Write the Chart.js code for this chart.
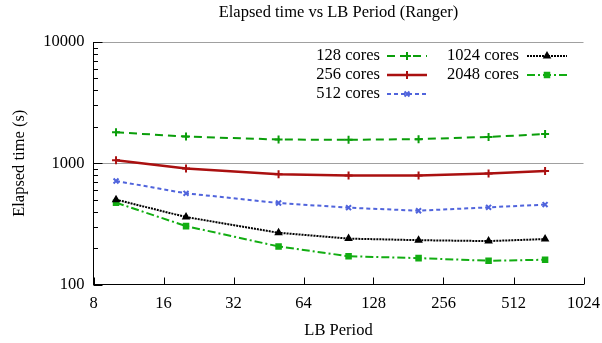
<!DOCTYPE html>
<html><head><meta charset="utf-8">
<script src="https://cdn.jsdelivr.net/npm/chart.js@4.4.1/dist/chart.umd.min.js"></script>
<style>html,body{margin:0;padding:0;background:#fff}canvas{display:block}</style>
</head><body>
<canvas id="c" width="602" height="343"></canvas>
<script>
// ---- data ----
const periods   = [10, 20, 50, 100, 200, 400, 700];
const cores128  = [1800, 1660, 1570, 1560, 1580, 1650, 1740];
const cores256  = [1060, 905, 811, 791, 792, 822, 864];
const cores512  = [714, 565, 470, 430, 406, 433, 456];
const cores1024 = [501, 360, 267, 239, 232, 228, 237];
const cores2048 = [473, 303, 206, 171, 165, 157, 160];
const seriesLabels = ['128 cores', '256 cores', '512 cores', '1024 cores', '2048 cores'];
const xTickLabels = [8, 16, 32, 64, 128, 256, 512, 1024];
const yTickLabels = [100, 1000, 10000];
const titleText = 'Elapsed time vs LB Period (Ranger)';
const xTitle = 'LB Period';
const yTitle = 'Elapsed time (s)';

const FONT = '"Liberation Serif", "Times New Roman", serif';
const FS = 16.5;

const styles = [
  {color:'#0a9e0a', dash:[8,5], width:2, point:'cross', r:4},
  {color:'#aa1010', dash:[], width:2.5, point:'cross', r:4},
  {color:'#5064dc', dash:[4,3], width:2, point:'crossRot', r:3.5},
  {color:'#000000', dash:[2,1], width:2, point:'triangle', r:3},
  {color:'#12ad12', dash:[8,3,2,3], width:2, point:'rect', r:3.2}
];
const allSeries = [cores128, cores256, cores512, cores1024, cores2048];

const datasets = allSeries.map((arr, i) => ({
  label: seriesLabels[i],
  data: periods.map((p, j) => ({x: p, y: arr[j]})),
  borderColor: styles[i].color,
  backgroundColor: styles[i].color,
  borderWidth: styles[i].width,
  borderDash: styles[i].dash,
  pointStyle: styles[i].point,
  pointRadius: styles[i].r,
  pointBorderWidth: 2,
  pointBackgroundColor: styles[i].color,
  pointBorderColor: styles[i].color,
  tension: 0,
  fill: false
}));

// minor/major log ticks for y
const yAllTicks = [];
for (let d = 100; d < 10000; d *= 10) for (let m = 1; m < 10; m++) yAllTicks.push(d * m);
yAllTicks.push(10000);

const decor = {
  id: 'decor',
  afterDraw(chart) {
    const ctx = chart.ctx, ca = chart.chartArea;
    const xs = chart.scales.x, ys = chart.scales.y;
    ctx.save();
    // inward ticks
    ctx.strokeStyle = '#000'; ctx.lineWidth = 1; ctx.setLineDash([]);
    ctx.beginPath();
    yAllTicks.forEach(v => {
      const y = Math.round(ys.getPixelForValue(v)) + 0.5;
      const len = yTickLabels.includes(v) ? 9 : 4.5;
      ctx.moveTo(ca.left, y); ctx.lineTo(ca.left + len, y);
    });
    xTickLabels.forEach(v => {
      const x = Math.round(xs.getPixelForValue(v)) + 0.5;
      ctx.moveTo(x, ca.bottom); ctx.lineTo(x, ca.bottom - 7);
    });
    ctx.stroke();
    // title
    ctx.fillStyle = '#000';
    ctx.font = FS + 'px ' + FONT;
    ctx.textAlign = 'center'; ctx.textBaseline = 'middle';
    ctx.fillText(titleText, (ca.left + ca.right) / 2, 13);
    // legend
    const cols = [{tr:380, s0:387, s1:427}, {tr:519, s0:527, s1:567}];
    const pos = [[0,0],[0,1],[0,2],[1,0],[1,1]];
    chart.data.datasets.forEach((ds, i) => {
      const c = cols[pos[i][0]], y = 56 + pos[i][1] * 19;
      ctx.fillStyle = '#000';
      ctx.textAlign = 'right'; ctx.textBaseline = 'middle';
      ctx.fillText(ds.label, c.tr, y);
      ctx.strokeStyle = ds.borderColor; ctx.lineWidth = ds.borderWidth;
      ctx.setLineDash(ds.borderDash);
      ctx.beginPath(); ctx.moveTo(c.s0, y); ctx.lineTo(c.s1, y); ctx.stroke();
      ctx.setLineDash([]);
      ctx.fillStyle = ds.borderColor; ctx.lineWidth = 2;
      Chart.helpers.drawPoint(ctx, {pointStyle: ds.pointStyle, radius: ds.pointRadius, borderWidth: 2, rotation: 0}, (c.s0 + c.s1) / 2, y);
    });
    ctx.restore();
  }
};

new Chart(document.getElementById('c'), {
  type: 'line',
  data: {datasets},
  options: {
    responsive: false,
    animation: false,
    devicePixelRatio: 1,
    layout: {padding: {left: 0, right: 18.5, top: 42, bottom: 0}},
    plugins: {legend: {display: false}, tooltip: {enabled: false}, title: {display: false}},
    scales: {
      x: {
        type: 'logarithmic', min: 8, max: 1024,
        afterBuildTicks: s => { s.ticks = xTickLabels.map(v => ({value: v})); },
        afterFit: s => { s.height = 343 - 284.5; s.paddingLeft = 0; s.paddingRight = 0; },
        ticks: {callback: v => String(v), autoSkip: false, maxRotation: 0, padding: 9,
                color: '#000', font: {family: FONT, size: FS}},
        grid: {display: false, drawTicks: false},
        border: {display: true, color: '#000', width: 1},
        title: {display: true, text: xTitle, color: '#000', font: {family: FONT, size: FS}, padding: {top: 4, bottom: 2}}
      },
      y: {
        type: 'logarithmic', min: 100, max: 10000,
        afterBuildTicks: s => { s.ticks = yAllTicks.map(v => ({value: v})); },
        afterFit: s => { s.width = 93.5; s.paddingTop = 0; s.paddingBottom = 0; },
        ticks: {callback: v => yTickLabels.includes(v) ? String(v) : '', autoSkip: false, padding: 9,
                color: '#000', font: {family: FONT, size: FS}},
        grid: {drawTicks: false, lineWidth: 1,
               color: c => (c.tick && (c.tick.value === 1000 || c.tick.value === 10000)) ? '#a0a0a0' : 'rgba(0,0,0,0)'},
        border: {display: true, color: '#000', width: 1},
        title: {display: true, text: yTitle, color: '#000', font: {family: FONT, size: FS}, padding: {top: 10, bottom: 0}}
      }
    }
  },
  plugins: [decor]
});
</script>
</body></html>
